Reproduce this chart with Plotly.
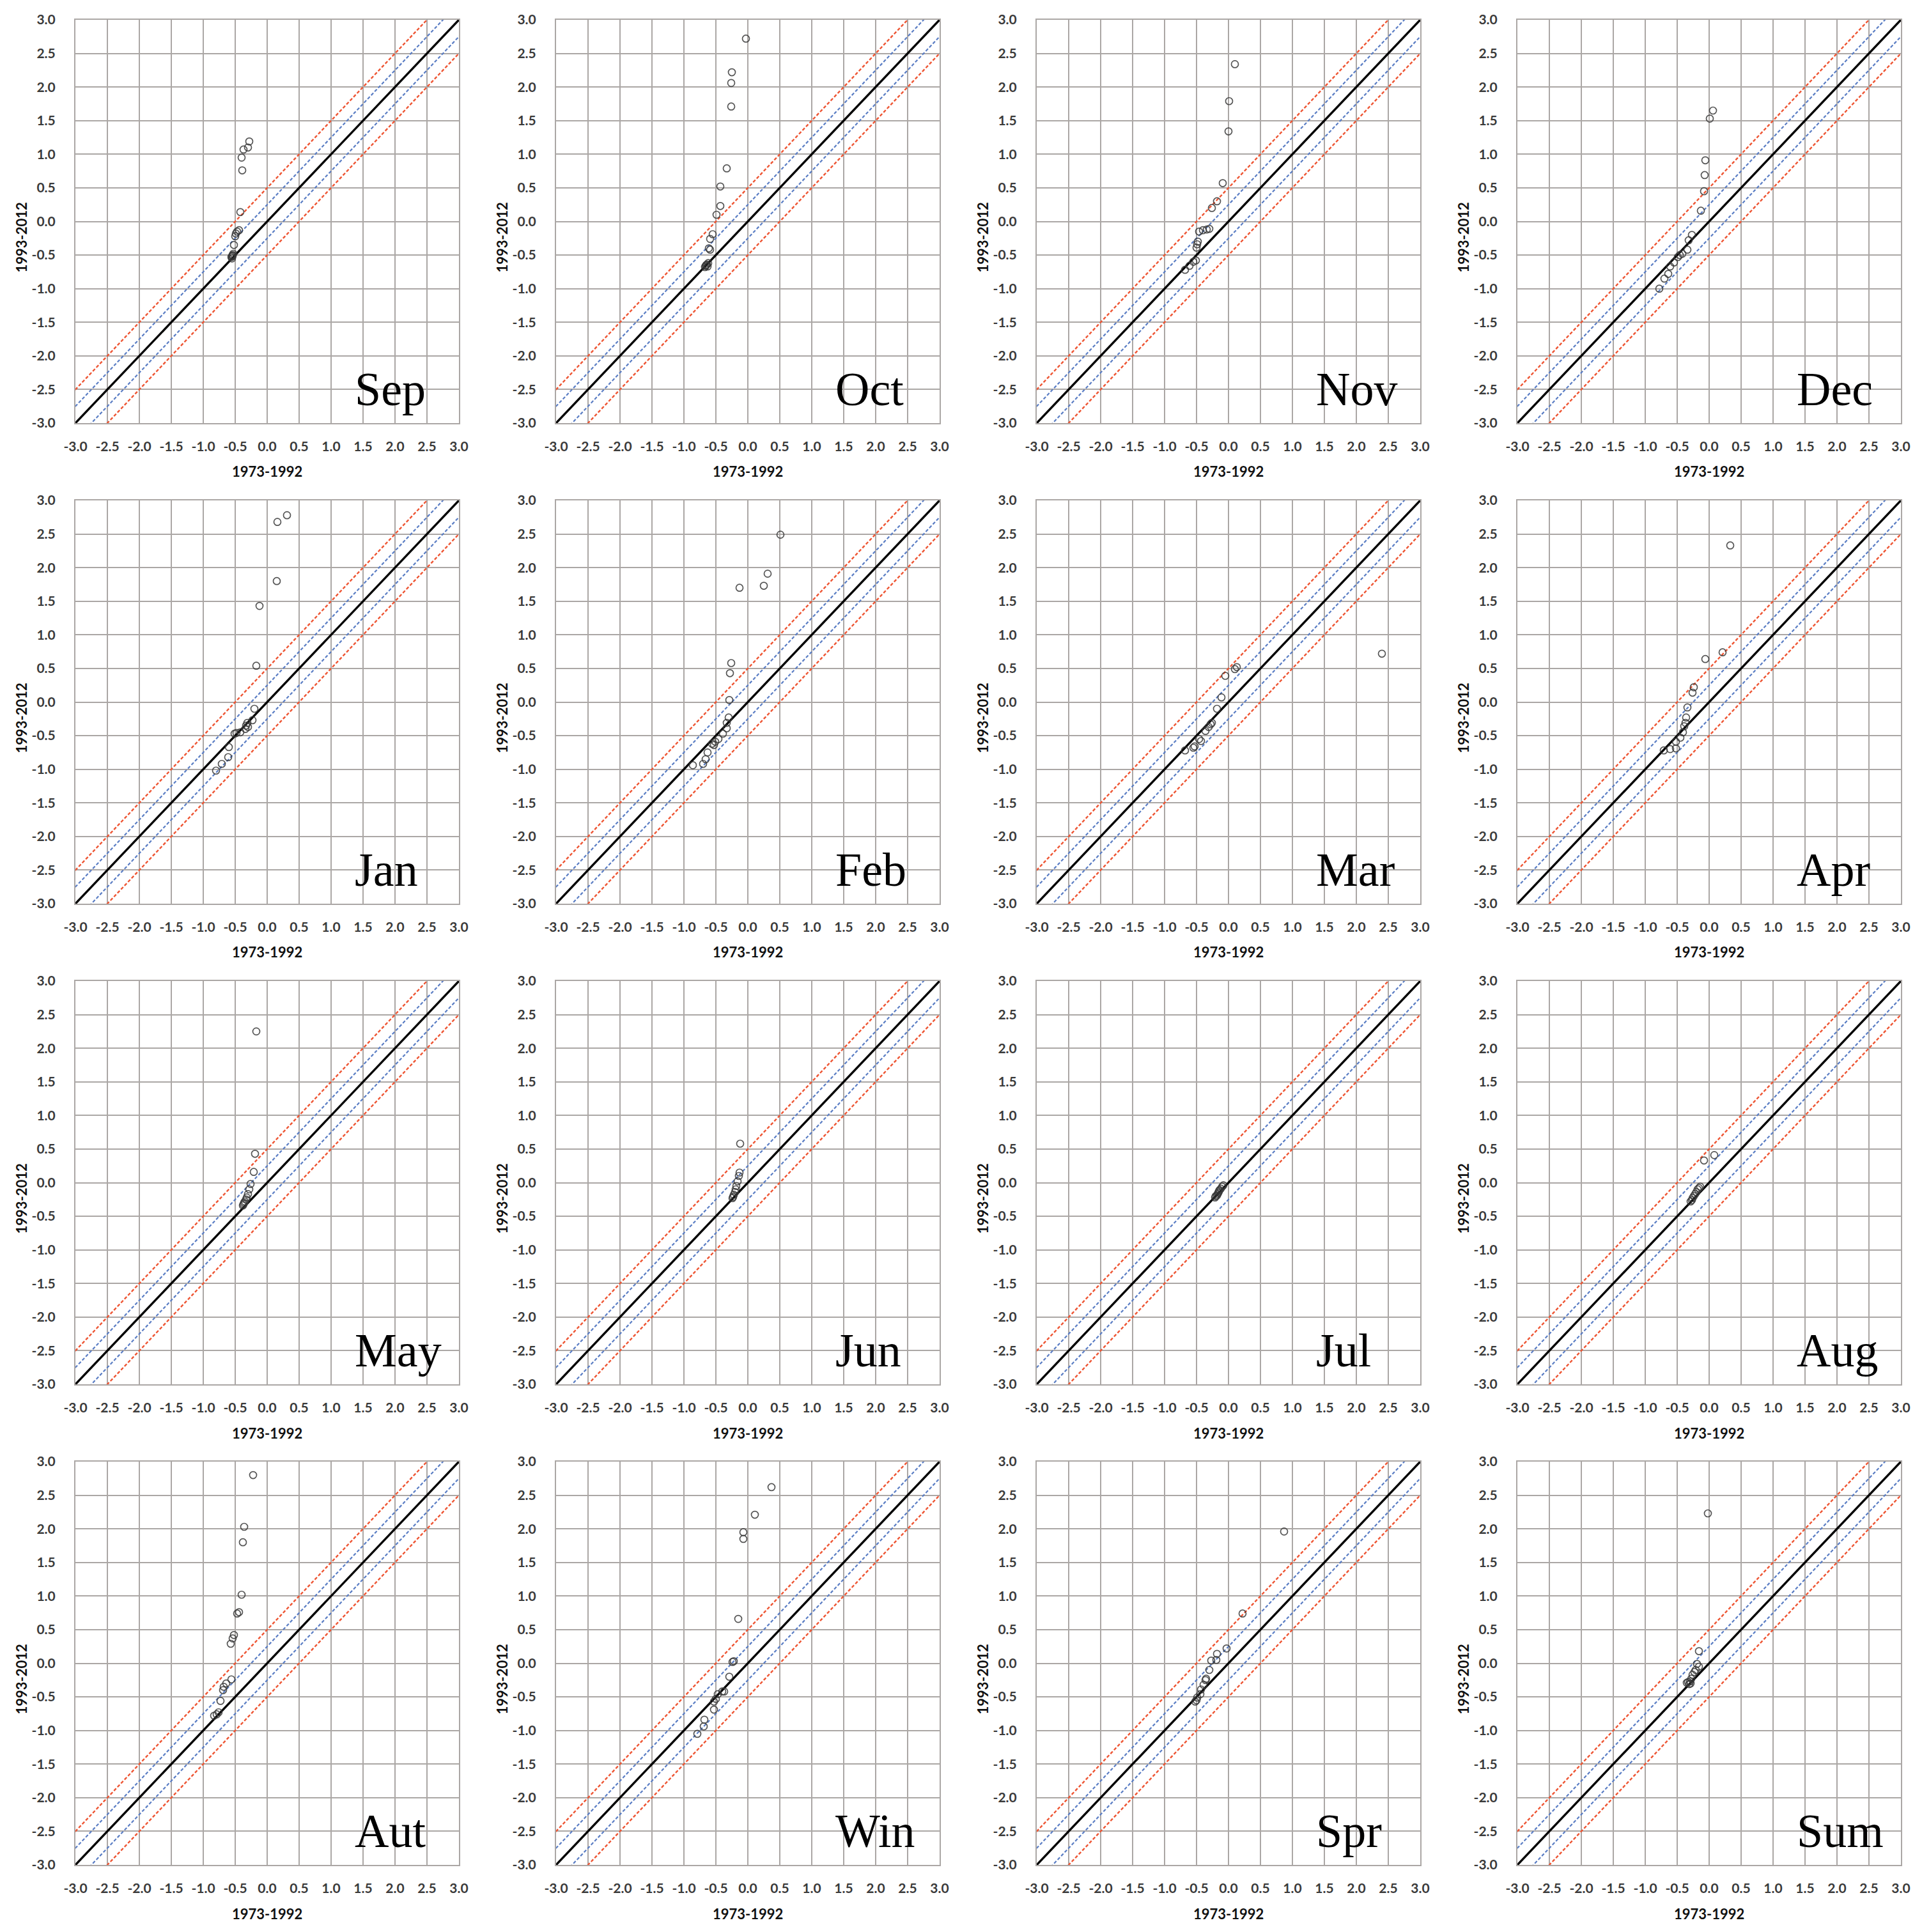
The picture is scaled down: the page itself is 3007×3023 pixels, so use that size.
import plotly.graph_objects as go

# ---------------- data ----------------
PANEL_NAMES = ["Sep", "Oct", "Nov", "Dec", "Jan", "Feb", "Mar", "Apr",
               "May", "Jun", "Jul", "Aug", "Aut", "Win", "Spr", "Sum"]

sep_x = [-0.28, -0.30, -0.37, -0.40, -0.39, -0.42, -0.44, -0.47, -0.49, -0.50, -0.52, -0.53, -0.54, -0.55, -0.56, -0.55, -0.54]
sep_y = [1.19, 1.10, 1.07, 0.95, 0.76, 0.14, -0.13, -0.15, -0.18, -0.22, -0.35, -0.48, -0.50, -0.52, -0.53, -0.55, -0.51]

oct_x = [-0.03, -0.25, -0.26, -0.26, -0.33, -0.43, -0.43, -0.49, -0.55, -0.59, -0.61, -0.59, -0.62, -0.64, -0.66, -0.65, -0.63, -0.67]
oct_y = [2.72, 2.22, 2.06, 1.71, 0.79, 0.52, 0.23, 0.10, -0.19, -0.26, -0.40, -0.42, -0.62, -0.64, -0.66, -0.65, -0.67, -0.68]

nov_x = [0.10, 0.01, 0.00, -0.09, -0.18, -0.26, -0.30, -0.34, -0.40, -0.46, -0.48, -0.49, -0.50, -0.51, -0.55, -0.61, -0.68]
nov_y = [2.34, 1.79, 1.34, 0.57, 0.30, 0.20, -0.11, -0.12, -0.13, -0.15, -0.30, -0.34, -0.39, -0.58, -0.60, -0.66, -0.72]

dec_x = [0.06, 0.01, -0.06, -0.07, -0.08, -0.13, -0.27, -0.32, -0.34, -0.42, -0.46, -0.49, -0.55, -0.61, -0.64, -0.70, -0.78]
dec_y = [1.65, 1.53, 0.91, 0.69, 0.45, 0.16, -0.20, -0.28, -0.42, -0.48, -0.50, -0.53, -0.61, -0.67, -0.78, -0.85, -1.00]

jan_x = [0.31, 0.16, 0.15, -0.12, -0.17, -0.20, -0.23, -0.31, -0.33, -0.34, -0.30, -0.42, -0.51, -0.48, -0.60, -0.61, -0.71, -0.80]
jan_y = [2.78, 2.68, 1.80, 1.43, 0.54, -0.10, -0.27, -0.31, -0.35, -0.40, -0.37, -0.45, -0.47, -0.46, -0.67, -0.82, -0.92, -1.02]

feb_x = [0.51, 0.31, 0.25, -0.13, -0.26, -0.28, -0.29, -0.30, -0.33, -0.33, -0.39, -0.46, -0.51, -0.53, -0.56, -0.63, -0.66, -0.70, -0.86]
feb_y = [2.49, 1.91, 1.73, 1.70, 0.58, 0.43, 0.03, -0.23, -0.31, -0.39, -0.47, -0.55, -0.59, -0.64, -0.62, -0.75, -0.85, -0.92, -0.94]

mar_x = [2.40, 0.13, 0.10, -0.05, -0.11, -0.18, -0.26, -0.28, -0.31, -0.36, -0.43, -0.46, -0.53, -0.55, -0.68]
mar_y = [0.72, 0.52, 0.49, 0.39, 0.07, -0.10, -0.31, -0.33, -0.37, -0.43, -0.58, -0.55, -0.66, -0.68, -0.72]

apr_x = [0.33, 0.21, -0.06, -0.24, -0.26, -0.34, -0.36, -0.37, -0.39, -0.41, -0.45, -0.52, -0.52, -0.61, -0.71]
apr_y = [2.33, 0.74, 0.64, 0.22, 0.14, -0.08, -0.23, -0.31, -0.36, -0.45, -0.53, -0.59, -0.69, -0.70, -0.72]

may_x = [-0.17, -0.19, -0.21, -0.26, -0.28, -0.30, -0.32, -0.33, -0.35, -0.36, -0.37, -0.38]
may_y = [2.25, 0.43, 0.16, -0.02, -0.10, -0.17, -0.22, -0.25, -0.28, -0.30, -0.32, -0.34]

jun_x = [-0.12, -0.13, -0.14, -0.16, -0.18, -0.19, -0.20, -0.22, -0.23, -0.24]
jun_y = [0.58, 0.15, 0.10, 0.02, -0.05, -0.10, -0.14, -0.18, -0.21, -0.23]

jul_x = [-0.08, -0.10, -0.12, -0.14, -0.15, -0.16, -0.17, -0.18, -0.20, -0.21]
jul_y = [-0.04, -0.06, -0.09, -0.11, -0.13, -0.15, -0.17, -0.19, -0.20, -0.22]

aug_x = [0.08, -0.08, -0.14, -0.16, -0.18, -0.20, -0.22, -0.24, -0.26, -0.27, -0.29]
aug_y = [0.41, 0.33, -0.06, -0.08, -0.10, -0.14, -0.17, -0.20, -0.23, -0.26, -0.28]

aut_x = [-0.22, -0.36, -0.38, -0.40, -0.44, -0.47, -0.52, -0.54, -0.57, -0.56, -0.64, -0.68, -0.69, -0.73, -0.76, -0.79, -0.83]
aut_y = [2.80, 2.03, 1.80, 1.02, 0.76, 0.74, 0.42, 0.37, 0.29, -0.24, -0.30, -0.35, -0.40, -0.56, -0.73, -0.76, -0.78]

win_x = [0.37, 0.11, -0.07, -0.07, -0.15, -0.22, -0.24, -0.29, -0.37, -0.40, -0.47, -0.50, -0.53, -0.53, -0.68, -0.69, -0.79]
win_y = [2.62, 2.21, 1.95, 1.85, 0.66, 0.03, 0.02, -0.20, -0.42, -0.42, -0.46, -0.53, -0.57, -0.69, -0.84, -0.94, -1.05]

spr_x = [0.87, 0.22, -0.03, -0.18, -0.19, -0.27, -0.30, -0.35, -0.36, -0.39, -0.43, -0.44, -0.49, -0.52, -0.50]
spr_y = [1.96, 0.74, 0.22, 0.14, 0.05, 0.04, -0.10, -0.23, -0.25, -0.32, -0.39, -0.46, -0.51, -0.57, -0.55]

sum_x = [-0.02, -0.16, -0.19, -0.16, -0.21, -0.23, -0.26, -0.28, -0.30, -0.33, -0.35, -0.31, -0.29]
sum_y = [2.23, 0.18, -0.01, -0.05, -0.10, -0.13, -0.17, -0.23, -0.27, -0.28, -0.29, -0.31, -0.30]

PANEL_DATA = [(sep_x, sep_y), (oct_x, oct_y), (nov_x, nov_y), (dec_x, dec_y),
              (jan_x, jan_y), (feb_x, feb_y), (mar_x, mar_y), (apr_x, apr_y),
              (may_x, may_y), (jun_x, jun_y), (jul_x, jul_y), (aug_x, aug_y),
              (aut_x, aut_y), (win_x, win_y), (spr_x, spr_y), (sum_x, sum_y)]

TICK_VALUES = [-3.0, -2.5, -2.0, -1.5, -1.0, -0.5, 0.0, 0.5, 1.0, 1.5, 2.0, 2.5, 3.0]
TICK_LABELS = ["-3.0", "-2.5", "-2.0", "-1.5", "-1.0", "-0.5", "0.0", "0.5", "1.0", "1.5", "2.0", "2.5", "3.0"]
AXIS_RANGE = [-3.0, 3.0]
X_TITLE = "1973-1992"
Y_TITLE = "1993-2012"

# reference lines y = x + offset
REF_OFFSETS = [0.5, -0.5, 0.25, -0.25, 0.0]

# ---------------- styling / layout ----------------
W, H = 3007, 3023
LEFT0, TOP0, PW, PH, STEP = 118, 31, 600, 631, 752
RED = "#EE5533"
BLUE = "#5A7DC4"
GRID = "#ABA7A5"
TICK_FONT = dict(family="Lato", size=21, color="#3a3a3a", weight="bold")
TITLE_FONT = dict(family="Lato", size=22, color="#111111", weight="bold")
LABEL_FONT = dict(family="Liberation Serif", size=74, color="#000000")

ref_style = {0.5: (RED, 2.4, "5px,3px"), -0.5: (RED, 2.4, "5px,3px"),
             0.25: (BLUE, 2.2, "5px,3px"), -0.25: (BLUE, 2.2, "5px,3px"),
             0.0: ("#000000", 3.4, "solid")}

fig = go.Figure()
layout = dict(width=W, height=H, margin=dict(l=0, r=0, t=0, b=0, pad=0, autoexpand=False),
              paper_bgcolor="white", plot_bgcolor="white", showlegend=False)
annotations = []

line_x = [AXIS_RANGE[0] - 0.5, AXIS_RANGE[1] + 0.5]

for i, name in enumerate(PANEL_NAMES):
    r, c = divmod(i, 4)
    left = LEFT0 + STEP * c
    top = TOP0 + STEP * r
    suffix = "" if i == 0 else str(i + 1)
    xref, yref = "x" + suffix, "y" + suffix
    ax_common = dict(range=AXIS_RANGE, tickvals=TICK_VALUES, ticktext=TICK_LABELS,
                     showgrid=True, gridcolor=GRID, gridwidth=2, zeroline=False,
                     showline=True, linecolor=GRID, linewidth=2, mirror=True,
                     ticks="outside", tickcolor="rgba(0,0,0,0)",
                     tickfont=TICK_FONT, fixedrange=True, automargin=False)
    layout["xaxis" + suffix] = dict(ax_common, ticklen=17,
                                    domain=[left / W, (left + PW) / W], anchor=yref)
    layout["yaxis" + suffix] = dict(ax_common, ticklen=25,
                                    domain=[1 - (top + PH) / H, 1 - top / H], anchor=xref)

    for off in REF_OFFSETS:
        col, wd, dash = ref_style[off]
        fig.add_trace(go.Scatter(x=line_x, y=[v + off for v in line_x], mode="lines",
                                 line=dict(color=col, width=wd, dash=dash),
                                 xaxis=xref, yaxis=yref, hoverinfo="skip"))
    px, py = PANEL_DATA[i]
    fig.add_trace(go.Scatter(x=px, y=py, mode="markers",
                             marker=dict(symbol="circle-open", size=11,
                                         color="rgba(55,55,55,0.85)", line=dict(width=1.7)),
                             xaxis=xref, yaxis=yref))

    annotations.append(dict(text=name, xref=xref, yref=yref, x=1.35, y=-2.50,
                            xanchor="left", yanchor="middle", showarrow=False, font=LABEL_FONT))
    annotations.append(dict(text=X_TITLE, xref="paper", yref="paper",
                            x=(left + PW / 2) / W, y=1 - (top + PH + 76) / H,
                            xanchor="center", yanchor="middle", showarrow=False, font=TITLE_FONT))
    annotations.append(dict(text=Y_TITLE, xref="paper", yref="paper",
                            x=(left - 85) / W, y=1 - (top + PH / 2 + 25) / H, textangle=-90,
                            xanchor="center", yanchor="middle", showarrow=False, font=TITLE_FONT))

layout["annotations"] = annotations
fig.update_layout(**layout)

fig.write_html("out.html", config=dict(displayModeBar=False),
               post_script="document.body.style.margin='0';")
